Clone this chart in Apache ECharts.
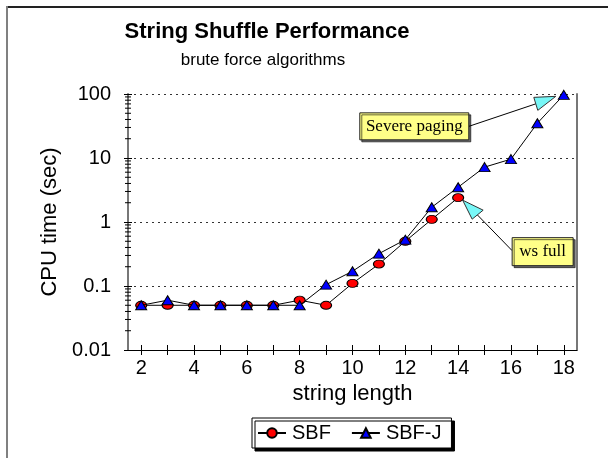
<!DOCTYPE html>
<html>
<head>
<meta charset="utf-8">
<script src="https://cdn.jsdelivr.net/npm/echarts@6/dist/echarts.min.js"></script>
<style>html,body{margin:0;padding:0;background:#fff}#c{width:608px;height:458px}</style>
</head>
<body>
<div id="c"></div>
<script>
const categories = ['2','3','4','5','6','7','8','9','10','11','12','13','14','15','16','17','18'];
const sbf  = [0.05,0.05,0.05,0.05,0.05,0.05,0.06,0.05,0.11,0.22,0.5,1.1,2.4];
const sbfJ = [0.05,0.06,0.05,0.05,0.05,0.05,0.05,0.105,0.17,0.32,0.53,1.7,3.5,7.2,9.6,35,97];
const yTicks = [0.01,0.1,1,10,100];
const minorTickValues = [];
for (let d = 0.01; d < 100; d *= 10) { for (let m = 2; m <= 9; m++) minorTickValues.push(+(m*d).toPrecision(3)); }
const titleText = 'String Shuffle Performance';
const subtitleText = 'brute force algorithms';
const notes = [{text:'Severe paging', cat:'18', value:97}, {text:'ws full', cat:'14', value:2.4}];

const FONT = '"Liberation Sans", Arial, sans-serif';
const SERIF = '"Liberation Serif", "Times New Roman", serif';
const chart = echarts.init(document.getElementById('c'), null, {renderer:'canvas'});

const fmt = v => { const r = yTicks.find(t => Math.abs(Math.log10(t) - Math.log10(v)) < 1e-6); return r === undefined ? '' : String(r); };

const option = {
  animation: false,
  backgroundColor: '#fff',
  title: [
    {text: titleText, left: 267, top: 21, textAlign: 'center', padding: 0,
     textStyle: {fontFamily: FONT, fontSize: 22, fontWeight: 'bold', color: '#000'}},
    {text: subtitleText, left: 263, top: 52, textAlign: 'center', padding: 0,
     textStyle: {fontFamily: FONT, fontSize: 17, fontWeight: 'normal', color: '#000'}}
  ],
  grid: {left: 128, right: 31, top: 94, bottom: 108, containLabel: false},
  legend: {
    left: 252, top: 418, padding: [5, 10, 5, 5], itemGap: 20, itemWidth: 28, itemHeight: 12,
    backgroundColor: '#fff', borderColor: '#000', borderWidth: 1,
    shadowColor: '#000', shadowBlur: 0, shadowOffsetX: 3, shadowOffsetY: 3,
    textStyle: {fontFamily: FONT, fontSize: 20, color: '#000', padding: [0,0,0,1]},
    data: ['SBF', 'SBF-J']
  },
  xAxis: [
    {type: 'category', data: categories, boundaryGap: true,
     name: 'string length', nameLocation: 'middle', nameGap: 32,
     nameTextStyle: {fontFamily: FONT, fontSize: 22, color: '#000'},
     axisLine: {show: true, lineStyle: {color: '#000', width: 1}},
     axisTick: {show: true, alignWithLabel: true, interval: 0, length: 5, lineStyle: {color: '#000'}},
     axisLabel: {interval: 1, margin: 8, fontFamily: FONT, fontSize: 20, color: '#000'},
     splitLine: {show: false}},
    {type: 'category', data: categories, boundaryGap: true, position: 'bottom',
     axisLine: {show: false},
     axisTick: {show: true, inside: true, alignWithLabel: true, interval: 0, length: 5, lineStyle: {color: '#000'}},
     axisLabel: {show: false}, splitLine: {show: false}}
  ],
  yAxis: [
    {type: 'log', logBase: 10, min: 0.01, max: 100,
     name: 'CPU time (sec)', nameLocation: 'middle', nameGap: 60, nameRotate: 90,
     nameTextStyle: {fontFamily: FONT, fontSize: 22, color: '#000'},
     axisLine: {show: true, lineStyle: {color: '#777', width: 2}},
     axisTick: {show: true, length: 4, lineStyle: {color: '#000'}},
     axisLabel: {margin: 17, fontFamily: FONT, fontSize: 20, color: '#000', formatter: fmt},
     splitLine: {show: true, lineStyle: {color: '#333', type: [2, 4], width: 1}}},
    {type: 'log', logBase: 10, min: 0.01, max: 100, position: 'left',
     axisLine: {show: false},
     axisTick: {show: true, inside: true, length: 4, lineStyle: {color: '#000'}},
     axisLabel: {show: false}, splitLine: {show: false}},
    {type: 'log', logBase: 10, min: 0.01, max: 100, position: 'right',
     axisLine: {show: true, lineStyle: {color: '#777', width: 2}},
     axisTick: {show: false}, axisLabel: {show: false}, splitLine: {show: false}}
  ],
  series: [
    {name: 'SBF', type: 'line', data: sbf, symbol: 'circle', symbolSize: [11, 8],
     lineStyle: {color: '#000', width: 1},
     itemStyle: {color: '#ff0000', borderColor: '#000', borderWidth: 1}, z: 3},
    {name: 'SBF-J', type: 'line', data: sbfJ, symbol: 'triangle', symbolSize: [11, 9],
     lineStyle: {color: '#000', width: 1},
     itemStyle: {color: '#0000ff', borderColor: '#000', borderWidth: 1}, z: 4},
    {name: 'minorTicks', type: 'custom', xAxisIndex: 0, yAxisIndex: 0, silent: true,
     data: minorTickValues.map(v => [0, v]),
     renderItem: function (params, api) {
       const p = api.coord([0, api.value(1)]);
       const bw = api.size([1, 0])[0];
       const x = p[0] - bw / 2;
       return {type: 'line', shape: {x1: x - 3, y1: p[1], x2: x + 3, y2: p[1]},
               style: {stroke: '#000', lineWidth: 1}};
     }, z: 2}
  ]
};
chart.setOption(option);

function buildNotes() {
  const g = [];
  g.push({type: 'rect', shape: {x: 6, y: 6, width: 602, height: 2}, style: {fill: '#222'}, silent: true});
  g.push({type: 'rect', shape: {x: 6, y: 6, width: 2, height: 452}, style: {fill: '#808080'}, silent: true});
  const arrowStyle = {fill: '#77f7f7', stroke: '#333', lineWidth: 1};
  const boxStyle = {fill: '#ffff88', stroke: '#222', lineWidth: 1, shadowColor: 'rgba(0,0,0,0.6)', shadowOffsetX: 2, shadowOffsetY: 2, shadowBlur: 0};
  {
    const P = chart.convertToPixel({xAxisIndex: 0, yAxisIndex: 0}, [notes[0].cat, notes[0].value]);
    const bx = P[0] - 204, by = P[1] + 18, bw = 109, bh = 27;
    g.push({type: 'line', shape: {x1: bx + bw, y1: by + bh / 2, x2: P[0] - 28, y2: P[1] + 9}, style: {stroke: '#000', lineWidth: 1}, z: 10});
    g.push({type: 'polygon', shape: {points: [[P[0] - 8, P[1] + 1.5], [P[0] - 30, P[1] + 2.5], [P[0] - 26, P[1] + 15.5]]}, style: arrowStyle, z: 11});
    g.push({type: 'rect', shape: {x: bx, y: by, width: bw, height: bh}, style: boxStyle, z: 10});
    g.push({type: 'text', x: bx + bw / 2, y: by + bh / 2, style: {text: notes[0].text, font: '17px ' + SERIF, fill: '#000', align: 'center', verticalAlign: 'middle'}, z: 11});
  }
  {
    const P = chart.convertToPixel({xAxisIndex: 0, yAxisIndex: 0}, [notes[1].cat, notes[1].value]);
    const bx = P[0] + 54, by = P[1] + 40, bw = 61, bh = 28;
    g.push({type: 'line', shape: {x1: P[0] + 19, y1: P[1] + 17, x2: bx, y2: by + 13}, style: {stroke: '#000', lineWidth: 1}, z: 10});
    g.push({type: 'polygon', shape: {points: [[P[0] + 4.5, P[1] + 2.5], [P[0] + 25, P[1] + 12.5], [P[0] + 14, P[1] + 21.5]]}, style: arrowStyle, z: 11});
    g.push({type: 'rect', shape: {x: bx, y: by, width: bw, height: bh}, style: boxStyle, z: 10});
    g.push({type: 'text', x: bx + bw / 2, y: by + bh / 2, style: {text: notes[1].text, font: '17px ' + SERIF, fill: '#000', align: 'center', verticalAlign: 'middle'}, z: 11});
  }
  chart.setOption({graphic: g});
}
buildNotes();
</script>
</body>
</html>
